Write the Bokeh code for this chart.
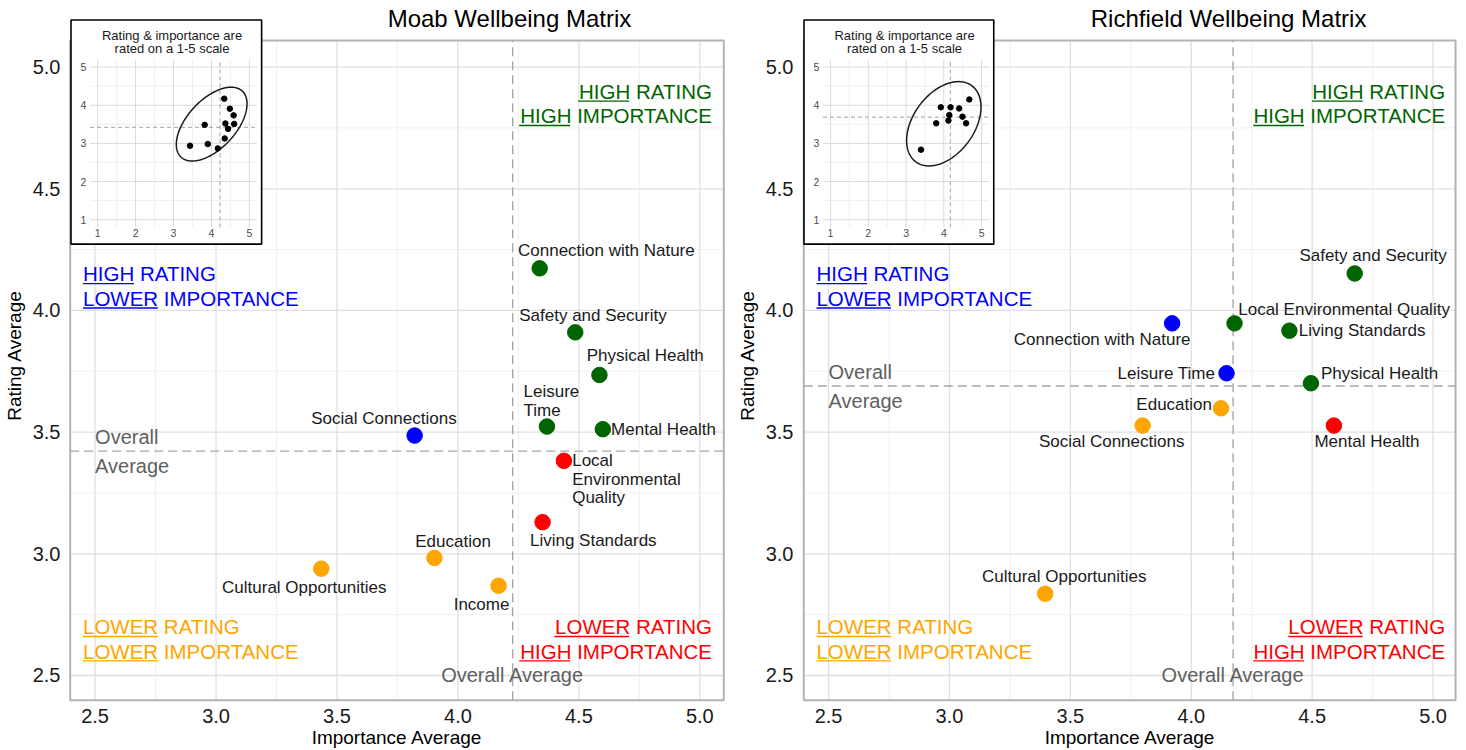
import math
import numpy as np
from bokeh.plotting import figure
from bokeh.models import ColumnDataSource, Range1d, FixedTicker, PrintfTickFormatter
from bokeh.layouts import row
from bokeh.core.properties import value, field
from bokeh.embed import file_html
from bokeh.resources import INLINE

# ---------------------------------------------------------------- data
moab_items = ["Connection with Nature", "Safety and Security", "Physical Health",
              "Leisure Time", "Mental Health", "Social Connections",
              "Local Environmental Quality", "Living Standards", "Education",
              "Cultural Opportunities", "Income"]
moab_importance = [4.338, 4.485, 4.585, 4.368, 4.599, 3.821, 4.438, 4.350, 3.903, 3.435, 4.168]
moab_rating = [4.173, 3.910, 3.735, 3.523, 3.512, 3.486, 3.382, 3.130, 2.983, 2.939, 2.869]

richfield_items = ["Safety and Security", "Connection with Nature", "Local Environmental Quality",
                   "Living Standards", "Leisure Time", "Physical Health", "Education",
                   "Social Connections", "Mental Health", "Cultural Opportunities"]
richfield_importance = [4.676, 3.921, 4.179, 4.406, 4.146, 4.495, 4.123, 3.799, 4.590, 3.396]
richfield_rating = [4.152, 3.947, 3.947, 3.917, 3.742, 3.701, 3.598, 3.527, 3.527, 2.836]

panel_titles = ["Moab Wellbeing Matrix", "Richfield Wellbeing Matrix"]
x_title = "Importance Average"
y_title = "Rating Average"
axis_ticks = [2.5, 3.0, 3.5, 4.0, 4.5, 5.0]
minor_ticks = [2.75, 3.25, 3.75, 4.25, 4.75]
inset_ticks = [1, 2, 3, 4, 5]
inset_minor = [1.5, 2.5, 3.5, 4.5]
inset_note = ["Rating & importance are", "rated on a 1-5 scale"]
avg_words = ["Overall", "Average"]
quad_lines = {
    "hh": [("HIGH", " RATING"), ("HIGH", " IMPORTANCE")],
    "hl": [("HIGH", " RATING"), ("LOWER", " IMPORTANCE")],
    "ll": [("LOWER", " RATING"), ("LOWER", " IMPORTANCE")],
    "lh": [("LOWER", " RATING"), ("HIGH", " IMPORTANCE")],
}

# ---------------------------------------------------------------- styles / layout
FONT = "Liberation Sans"
GREEN, BLUE, RED, ORANGE = "#006400", "#0000FF", "#FF0000", "#FFA500"
quad_color = {"hh": GREEN, "hl": BLUE, "ll": ORANGE, "lh": RED}
quad_pos = {"hh": (5.05, "right", [4.90, 4.80]), "hl": (2.45, "left", [4.15, 4.05]),
            "ll": (2.45, "left", [2.70, 2.60]), "lh": (5.05, "right", [2.70, 2.60])}
QUAD_SIZE = 20.5
# Arial / Liberation Sans advance widths (per 1000 em) for underline lengths
ADV = {' ': 278, 'A': 667, 'C': 722, 'E': 667, 'G': 778, 'H': 722, 'I': 278, 'L': 556,
       'M': 833, 'N': 722, 'O': 778, 'P': 667, 'R': 722, 'T': 611, 'W': 944}

# label placement: name -> (shown text, dx px, dy px (down), align)
moab_labels = {
    "Connection with Nature": ("Connection with Nature", 66.7, -17.6, "center"),
    "Safety and Security": ("Safety and Security", 17.7, -17.3, "center"),
    "Physical Health": ("Physical Health", 45.8, -19.0, "center"),
    "Leisure Time": ("Leisure\nTime", -23.4, -25.8, "left"),
    "Mental Health": ("Mental Health", 8.3, 0.7, "left"),
    "Social Connections": ("Social Connections", -30.7, -16.7, "center"),
    "Local Environmental Quality": ("Local\nEnvironmental\nQuality", 8.3, 18.3, "left"),
    "Living Standards": ("Living Standards", 50.7, 18.4, "center"),
    "Education": ("Education", 18.6, -16.0, "center"),
    "Cultural Opportunities": ("Cultural Opportunities", -17.0, 19.0, "center"),
    "Income": ("Income", -17.0, 19.0, "center"),
}
richfield_labels = {
    "Safety and Security": ("Safety and Security", 18.4, -17.6, "center"),
    "Connection with Nature": ("Connection with Nature", -70.0, 16.0, "center"),
    "Local Environmental Quality": ("Local Environmental Quality", 3.7, -14.0, "left"),
    "Living Standards": ("Living Standards", 9.4, 0.0, "left"),
    "Leisure Time": ("Leisure Time", -11.3, 0.7, "right"),
    "Physical Health": ("Physical Health", 10.0, -9.3, "left"),
    "Education": ("Education", -9.0, -3.3, "right"),
    "Social Connections": ("Social Connections", -31.0, 16.0, "center"),
    "Mental Health": ("Mental Health", 33.0, 16.0, "center"),
    "Cultural Opportunities": ("Cultural Opportunities", 19.0, -17.0, "center"),
}
# inset ellipses (inset data units): cx, cy, semi-major, semi-minor, angle(deg)
moab_ellipse = (4.006, 3.506, 1.183, 0.637, 46.9)
richfield_ellipse = (4.0, 3.515, 1.243, 0.804, 53.1)

# page pixel layout (figures start at the page's top-left corner)
LAYOUT = [
    dict(frame_left=65, frame_width=660, border_left=65, border_right=8, sx=243.0,
         x_ref=(2.5, 91.7), panel_px=(66.7, 723.3), title_px=(508, 18)),
    dict(frame_left=795, frame_width=663, border_left=62, border_right=8, sx=244.0,
         x_ref=(2.5, 822.3), panel_px=(797.3, 1455.0), title_px=(1226, 18)),
]
FRAME_TOP, FRAME_H, SY, Y_REF = 8, 695, 243.7, (5.0, 66.7)
PANEL_TOP_PX, PANEL_BOTTOM_PX = 40.0, 700.7
FIG_H = 750


def make_panel(idx, title, items, imp, rat, labels, ell):
    L = LAYOUT[idx]
    FL, SX = L["frame_left"], L["sx"]
    x0 = L["x_ref"][0] - (L["x_ref"][1] - FL) / SX
    x1 = x0 + L["frame_width"] / SX
    ytop = Y_REF[0] + (Y_REF[1] - FRAME_TOP) / SY
    ybot = ytop - FRAME_H / SY

    def X(px):
        return x0 + (px - FL) / SX

    def Y(py):
        return ytop - (py - FRAME_TOP) / SY

    p = figure(width=L["border_left"] + L["frame_width"] + L["border_right"], height=FIG_H,
               x_range=Range1d(x0, x1), y_range=Range1d(ybot, ytop),
               output_backend="svg", toolbar_location=None,
               min_border_left=L["border_left"], min_border_right=L["border_right"],
               min_border_top=FRAME_TOP, min_border_bottom=FIG_H - FRAME_H - FRAME_TOP)
    p.outline_line_color = None
    p.background_fill_color = "white"
    p.border_fill_color = "white"
    p.xgrid.visible = False
    p.ygrid.visible = False

    pl, pr = X(L["panel_px"][0]), X(L["panel_px"][1])
    pt, pb = Y(PANEL_TOP_PX), Y(PANEL_BOTTOM_PX)

    for ax, lab in ((p.xaxis, x_title), (p.yaxis, y_title)):
        ax.ticker = FixedTicker(ticks=axis_ticks)
        ax.formatter = PrintfTickFormatter(format="%.1f")
        ax.axis_line_color = None
        ax.major_tick_out = 0
        ax.major_tick_in = 0
        ax.minor_tick_out = 0
        ax.minor_tick_in = 0
        ax.major_label_text_font = FONT
        ax.major_label_text_font_size = "20px"
        ax.major_label_text_color = "#1A1A1A"
        ax.axis_label = lab
        ax.axis_label_text_font = FONT
        ax.axis_label_text_font_size = "19px"
        ax.axis_label_text_font_style = "normal"
        ax.axis_label_text_color = "#000000"
    p.xaxis.major_label_standoff = 6
    p.xaxis.axis_label_standoff = 1
    p.xaxis.bounds = (pl, pr)
    p.yaxis.major_label_standoff = 8
    p.yaxis.axis_label_standoff = 5
    p.yaxis.bounds = (pb, pt)

    # grid
    p.segment(x0=minor_ticks, y0=pb, x1=minor_ticks, y1=pt, line_color="#EBEBEB", line_width=0.7)
    p.segment(x0=pl, y0=minor_ticks, x1=pr, y1=minor_ticks, line_color="#EBEBEB", line_width=0.7)
    p.segment(x0=axis_ticks, y0=pb, x1=axis_ticks, y1=pt, line_color="#E0E0E0", line_width=1.3)
    p.segment(x0=pl, y0=axis_ticks, x1=pr, y1=axis_ticks, line_color="#E0E0E0", line_width=1.3)
    p.quad(left=pl, right=pr, bottom=pb, top=pt, fill_color=None, line_color="#B3B3B3", line_width=2)

    avg_i = float(np.mean(imp))
    avg_r = float(np.mean(rat))
    p.segment(x0=avg_i, y0=pb, x1=avg_i, y1=pt, line_color="#A6A6A6", line_width=1.4, line_dash="9 5")
    p.segment(x0=pl, y0=avg_r, x1=pr, y1=avg_r, line_color="#A6A6A6", line_width=1.4, line_dash="9 5")

    # average annotations
    avg_src = ColumnDataSource(dict(x=[2.5, 2.5, avg_i], y=[avg_r, avg_r, 2.5],
                                    text=[avg_words[0], avg_words[1], " ".join(avg_words)],
                                    dy=[-14.0, 15.0, 0.0], align=["left", "left", "center"]))
    p.text(x="x", y="y", text="text", y_offset="dy", text_align=field("align"), text_baseline=value("middle"),
           text_font=value(FONT), text_font_size=value("20px"), text_color="#5F5F5F", source=avg_src)

    # quadrant labels with underlines
    for key, lines in quad_lines.items():
        xq, align, ys = quad_pos[key]
        col = quad_color[key]
        txt = [u + r for (u, r) in lines]
        p.text(x=[xq] * len(txt), y=ys, text=txt, text_align=align, text_baseline="middle",
               text_font=value(FONT), text_font_size=value(f"{QUAD_SIZE}px"), text_color=col)
        for (u, r), yc in zip(lines, ys):
            full_w = sum(ADV[c] for c in u + r) / 1000 * QUAD_SIZE / SX
            u_w = sum(ADV[c] for c in u) / 1000 * QUAD_SIZE / SX
            xl = xq if align == "left" else xq - full_w
            yu = yc - 9.7 / SY
            p.segment(x0=xl, y0=yu, x1=xl + u_w, y1=yu, line_color=col, line_width=1.4)

    # points
    cols = []
    for a, b in zip(imp, rat):
        if b >= avg_r:
            cols.append(GREEN if a >= avg_i else BLUE)
        else:
            cols.append(RED if a >= avg_i else ORANGE)
    p.scatter(x=imp, y=rat, size=15.5, fill_color=cols, line_color=cols)

    lt = [labels[n][0] for n in items]
    ldx = [labels[n][1] for n in items]
    ldy = [labels[n][2] for n in items]
    lal = [labels[n][3] for n in items]
    lsrc = ColumnDataSource(dict(x=imp, y=rat, text=lt, dx=ldx, dy=ldy, align=lal))
    p.text(x="x", y="y", text="text", x_offset="dx", y_offset="dy", text_align=field("align"),
           text_baseline=value("middle"), text_font=value(FONT), text_font_size=value("17px"),
           text_line_height=0.98, text_color="#1A1A1A", source=lsrc)

    # ---------------- inset
    def IX(ix):
        return X(FL + 29.3 + (np.asarray(ix, dtype=float) - 1) * 38.1)

    def IY(iy):
        return Y(66.7 + (5 - np.asarray(iy, dtype=float)) * 38.2)

    p.quad(left=X(FL + 2.5), right=X(FL + 194), top=Y(19.5), bottom=Y(244),
           fill_color="white", line_color="black", line_width=1.6)
    glo, ghi = 0.8, 5.2
    p.segment(x0=IX(inset_minor), y0=IY(glo), x1=IX(inset_minor), y1=IY(ghi), line_color="#E6E6E6", line_width=0.6)
    p.segment(x0=IX(glo), y0=IY(inset_minor), x1=IX(ghi), y1=IY(inset_minor), line_color="#E6E6E6", line_width=0.6)
    p.segment(x0=IX(inset_ticks), y0=IY(glo), x1=IX(inset_ticks), y1=IY(ghi), line_color="#D6D6D6", line_width=0.9)
    p.segment(x0=IX(glo), y0=IY(inset_ticks), x1=IX(ghi), y1=IY(inset_ticks), line_color="#D6D6D6", line_width=0.9)
    p.segment(x0=IX(avg_i), y0=IY(glo), x1=IX(avg_i), y1=IY(ghi), line_color="#A0A0A0", line_width=1.0, line_dash="4 3")
    p.segment(x0=IX(glo), y0=IY(avg_r), x1=IX(ghi), y1=IY(avg_r), line_color="#A0A0A0", line_width=1.0, line_dash="4 3")

    cx, cy, a, b, th = ell
    t = np.linspace(0, 2 * np.pi, 241)
    thr = math.radians(th)
    ex = cx + a * np.cos(t) * math.cos(thr) - b * np.sin(t) * math.sin(thr)
    ey = cy + a * np.cos(t) * math.sin(thr) + b * np.sin(t) * math.cos(thr)
    p.line(x=IX(ex), y=IY(ey), line_color="#1A1A1A", line_width=1.5)
    p.scatter(x=IX(imp), y=IY(rat), size=5.5, fill_color="black", line_color="black")

    p.text(x=IX(inset_ticks), y=[Y(233)] * 5, text=[str(v) for v in inset_ticks], text_align="center",
           text_baseline="middle", text_font=value(FONT), text_font_size=value("10.5px"), text_color="#4D4D4D")
    p.text(x=[X(FL + 15)] * 5, y=IY(inset_ticks), text=[str(v) for v in inset_ticks], text_align="center",
           text_baseline="middle", text_font=value(FONT), text_font_size=value("10.5px"), text_color="#4D4D4D")
    p.text(x=[X(FL + 104)] * 2, y=[Y(35), Y(48)], text=inset_note, text_align="center",
           text_baseline="middle", text_font=value(FONT), text_font_size=value("13px"), text_color="#1A1A1A")

    # title
    p.text(x=[X(L["title_px"][0])], y=[Y(L["title_px"][1])], text=[title], text_align="center",
           text_baseline="middle", text_font=value(FONT), text_font_size=value("24px"), text_color="#000000")
    return p


p1 = make_panel(0, panel_titles[0], moab_items, moab_importance, moab_rating, moab_labels, moab_ellipse)
p2 = make_panel(1, panel_titles[1], richfield_items, richfield_importance, richfield_rating,
                richfield_labels, richfield_ellipse)
layout = row(p1, p2)
open("out.html", "w").write(file_html(layout, INLINE))
